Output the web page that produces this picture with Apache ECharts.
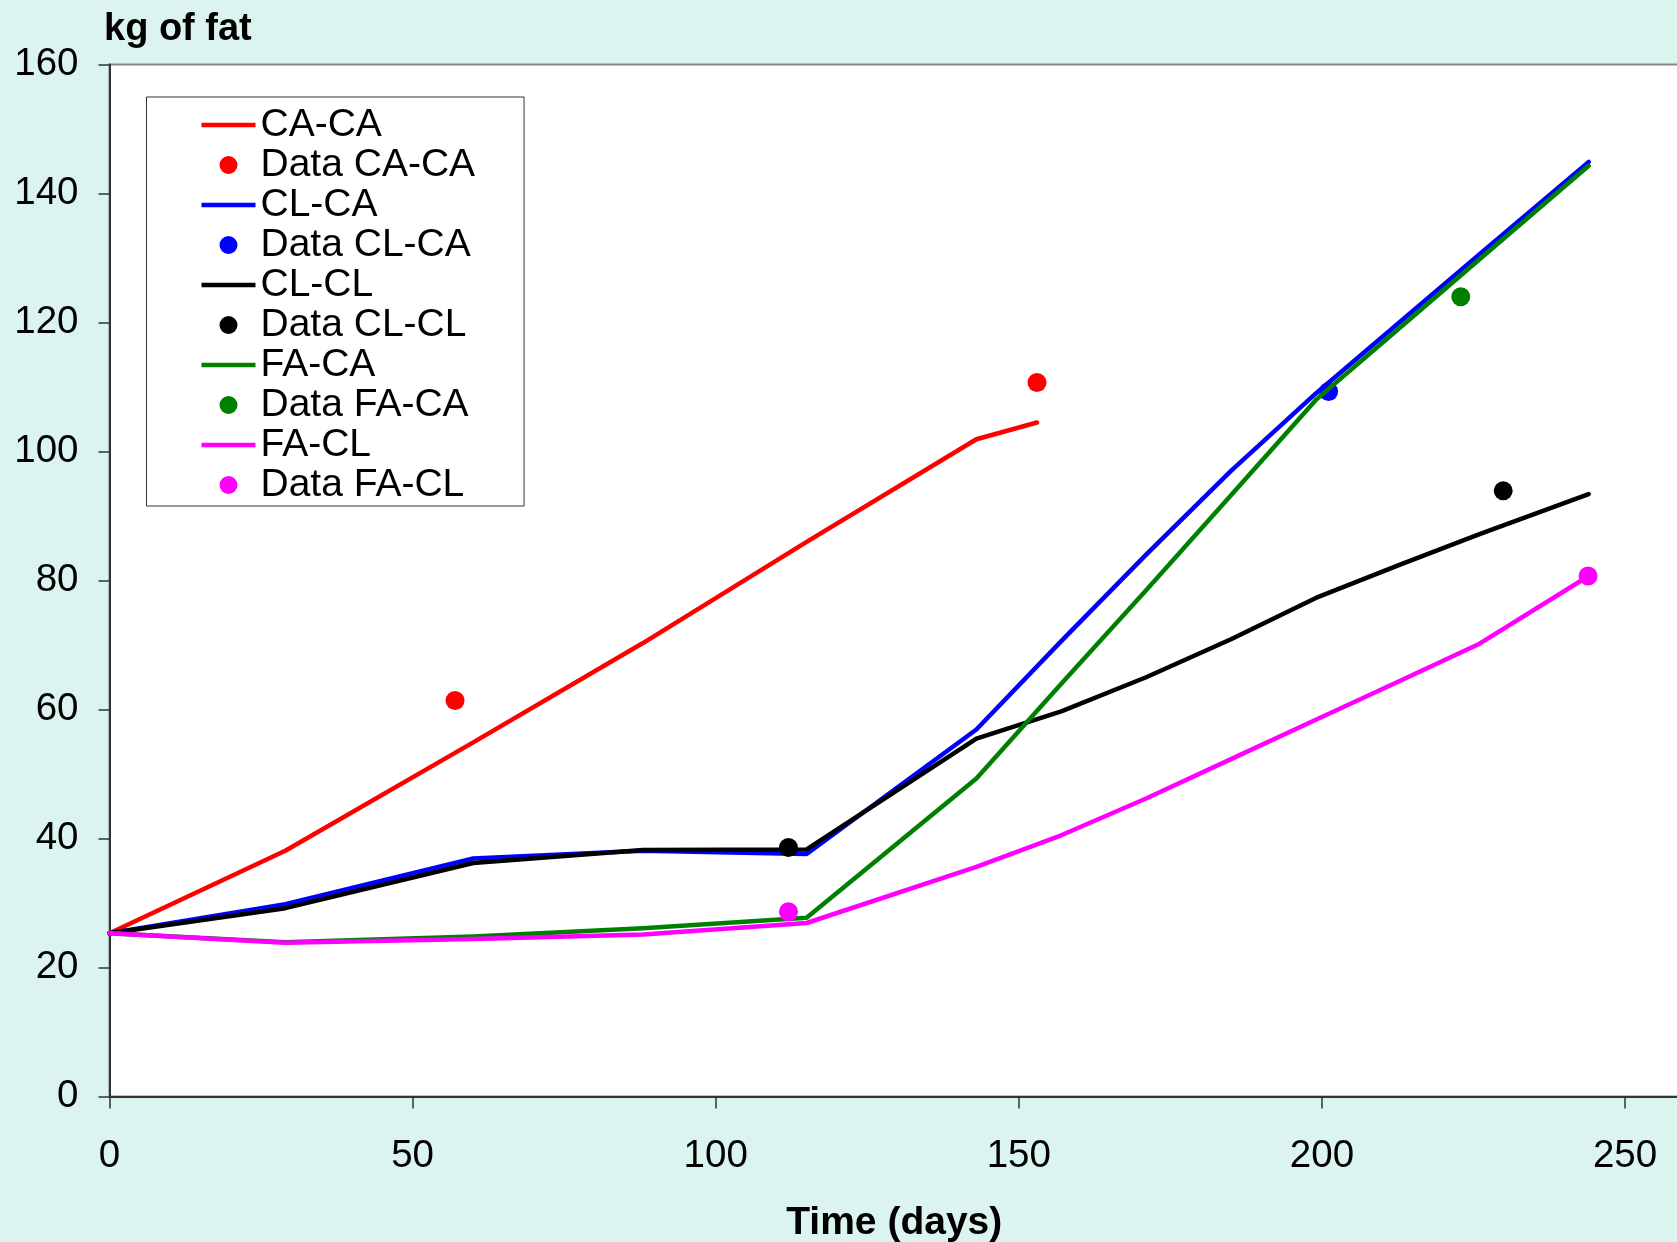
<!DOCTYPE html>
<html>
<head>
<meta charset="utf-8">
<script src="https://cdn.jsdelivr.net/npm/echarts@6/dist/echarts.min.js"></script>
<style>
  html, body { margin: 0; padding: 0; background: #dcf4f0; }
  #chart { width: 1677px; height: 1242px; }
</style>
</head>
<body>
<div id="chart"></div>
<script>
// ---- data ----
const modelTimes = [0, 29, 60, 88, 115, 143, 157, 171, 185, 199, 213, 226, 244];
const caCaTimes  = [0, 29, 60, 88, 115, 143, 153];
const caCa = [25.3, 38.1, 54.9, 70.3, 86.0, 101.9, 104.5];
const clCa = [25.3, 29.8, 36.9, 38.1, 37.6, 56.9, 70.6, 84.0, 97.0, 109.0, 120.2, 130.6, 144.9];
const clCl = [25.3, 29.2, 36.2, 38.2, 38.3, 55.5, 59.7, 65.0, 70.9, 77.3, 82.5, 87.2, 93.4];
const faCa = [25.3, 23.9, 24.8, 26.1, 27.7, 49.3, 64.0, 78.5, 93.2, 108.0, 119.3, 129.8, 144.3];
const faCl = [25.3, 23.85, 24.4, 25.1, 26.9, 35.6, 40.5, 46.2, 52.3, 58.4, 64.5, 70.2, 80.7];

const dataCaCaT = [57.0, 153.0];   const dataCaCa = [61.4, 110.7];
const dataClCaT = [201.1];         const dataClCa = [109.3];
const dataClClT = [112.0, 229.9];  const dataClCl = [38.6, 93.9];
const dataFaCaT = [222.9];         const dataFaCa = [124.0];
const dataFaClT = [112.0, 243.9];  const dataFaCl = [28.65, 80.7];

const xTicks = [0, 50, 100, 150, 200, 250];
const yTicks = [0, 20, 40, 60, 80, 100, 120, 140, 160];

const names = ['CA-CA', 'Data CA-CA', 'CL-CA', 'Data CL-CA', 'CL-CL', 'Data CL-CL', 'FA-CA', 'Data FA-CA', 'FA-CL', 'Data FA-CL'];
const colors = ['#ff0000', '#0000ff', '#000000', '#008000', '#ff00ff'];

// ---- build ----
const zip = (xs, ys) => xs.map((x, i) => [x, ys[i]]);
const FONT = '"Liberation Sans", Arial, sans-serif';
const lineIcon = 'path://M0,0H54V4.5H0Z';

const lineSets = [[caCaTimes, caCa], [modelTimes, clCa], [modelTimes, clCl], [modelTimes, faCa], [modelTimes, faCl]];
const dotSets = [[dataCaCaT, dataCaCa], [dataClCaT, dataClCa], [dataClClT, dataClCl], [dataFaCaT, dataFaCa], [dataFaClT, dataFaCl]];

const series = [];
for (let i = 0; i < 5; i++) {
  series.push({
    name: names[2 * i], type: 'line', data: zip(lineSets[i][0], lineSets[i][1]),
    showSymbol: false, symbol: 'none', color: colors[i],
    lineStyle: { color: colors[i], width: 4.5, cap: 'round', join: 'round' },
    z: 2 + 2 * i
  });
  series.push({
    name: names[2 * i + 1], type: 'scatter', data: zip(dotSets[i][0], dotSets[i][1]),
    symbol: 'circle', symbolSize: 19, color: colors[i],
    itemStyle: { color: colors[i], opacity: 1 },
    z: 3 + 2 * i
  });
}

const chart = echarts.init(document.getElementById('chart'), null, { renderer: 'canvas' });
chart.setOption({
  animation: false,
  backgroundColor: '#dcf4f0',
  title: {
    text: 'kg of fat', left: 104, top: 11, padding: 0,
    textStyle: { fontFamily: FONT, fontSize: 38, fontWeight: 'bold', color: '#000' }
  },
  grid: {
    left: 109.5, top: 64.5, bottom: 145.5, right: -2,
    show: true, backgroundColor: '#ffffff', borderColor: '#888888', borderWidth: 2,
    containLabel: false, outerBoundsMode: 'none'
  },
  legend: {
    orient: 'vertical', left: 146.5, top: 97,
    padding: [8, 49, 1, 55],
    itemWidth: 54, itemHeight: 18, itemGap: 0, itemTextGap: 10,
    backgroundColor: '#ffffff', borderColor: '#333333', borderWidth: 1,
    itemStyle: { borderWidth: 0, opacity: 1 },
    selectedMode: false,
    textStyle: { fontFamily: FONT, fontSize: 39, color: '#000', lineHeight: 40 },
    data: names.map((n, i) => ({ name: n, icon: i % 2 === 0 ? lineIcon : 'circle' }))
  },
  xAxis: {
    type: 'value', min: 0, max: 258.9, interval: 50,
    name: 'Time (days)', nameLocation: 'middle', nameGap: 107,
    nameTextStyle: { fontFamily: FONT, fontSize: 39, fontWeight: 'bold', color: '#000' },
    axisLine: { show: true, lineStyle: { color: '#333333', width: 2 } },
    axisTick: { show: true, length: 12, customValues: xTicks, lineStyle: { color: '#333333', width: 1.5 } },
    axisLabel: { customValues: xTicks, margin: 40, fontFamily: FONT, fontSize: 38.5, color: '#000' },
    splitLine: { show: false }
  },
  yAxis: {
    type: 'value', min: 0, max: 160, interval: 20,
    axisLine: { show: true, lineStyle: { color: '#333333', width: 2 } },
    axisTick: { show: true, length: 11, customValues: yTicks, lineStyle: { color: '#333333', width: 1.5 } },
    axisLabel: { customValues: yTicks, margin: 31, fontFamily: FONT, fontSize: 38.5, color: '#000' },
    splitLine: { show: false }
  },
  series: series
});
</script>
</body>
</html>
